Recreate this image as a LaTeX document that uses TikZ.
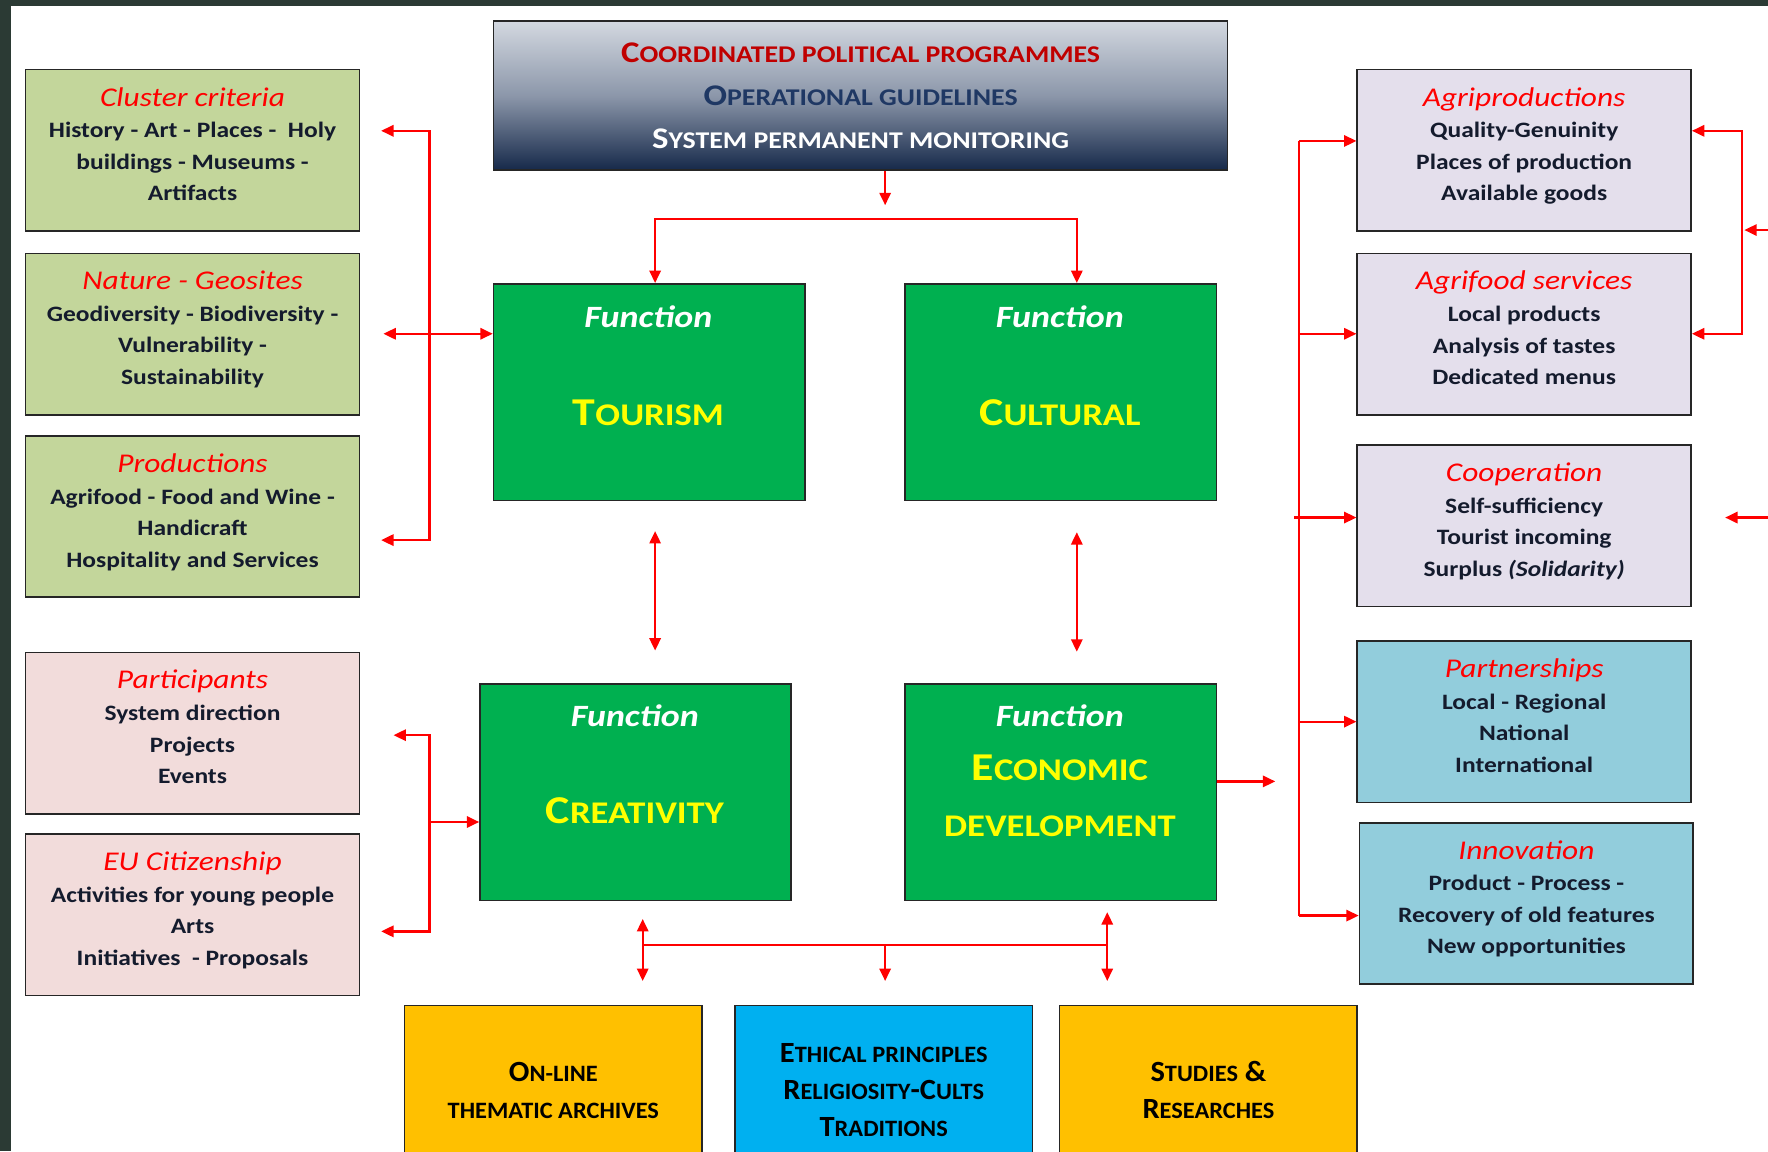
\documentclass[tikz,border=0pt]{standalone}
\usepackage{fontspec}
\setmainfont{Carlito}[FakeStretch=1.16]
\newfontfamily\condf[FakeStretch=1.04]{Carlito}
\usetikzlibrary{arrows.meta}
\definecolor{bgdark}{HTML}{2B3A34}
\definecolor{lgreen}{HTML}{C3D69B}
\definecolor{lpink}{HTML}{F2DCDB}
\definecolor{lviolet}{HTML}{E4DFEC}
\definecolor{lblue}{HTML}{92CDDC}
\definecolor{fgreen}{HTML}{00B050}
\definecolor{orng}{HTML}{FFC000}
\definecolor{cyanb}{HTML}{00B0F0}
\definecolor{tred}{HTML}{FF0000}
\definecolor{navy}{HTML}{1F3864}
\definecolor{dred}{HTML}{C00000}
\definecolor{txt}{HTML}{141B2D}
\definecolor{topL}{HTML}{D3D8E0}
\definecolor{topM}{HTML}{8C97AA}
\definecolor{topD}{HTML}{16294A}
\definecolor{yel}{HTML}{FFFF00}
\makeatletter
\newcommand\lsc[1]{{\fontsize{\the\dimexpr\f@size pt*4/5\relax}{\f@baselineskip}\selectfont #1}}
\makeatother
\newcommand\ttl[1]{{\fontsize{24}{28}\selectfont\mdseries\itshape\color{tred}#1}}
\newcommand\lift{\\[-17pt]\mbox{}}
\begin{document}
\begin{tikzpicture}[x=1pt,y=-1pt,
  box/.style={draw=black!85,line width=1.5pt,anchor=north west,align=center,inner sep=0pt},
  info/.style={box,minimum width=296pt,minimum height=143pt,text=txt,font=\bfseries\fontsize{19.5}{28}\selectfont},
  fun/.style={box,fill=fgreen,minimum width=276pt,minimum height=192pt},
  low/.style={box,minimum width=264pt,minimum height=150pt,font=\condf\bfseries\fontsize{26}{33}\selectfont,text=black},
  lbl/.style={inner sep=0pt,align=center},
  fnt/.style={lbl,text=white,font=\bfseries\itshape\fontsize{27.5}{30}\selectfont},
  fnn/.style={lbl,text=yel,font=\bfseries\fontsize{35}{50}\selectfont},
  ln/.style={draw=tred,line width=2pt},
  ar/.style={ln,-{Triangle[length=11pt,width=10pt]}},
  ar2/.style={ln,{Triangle[length=11pt,width=10pt]}-{Triangle[length=11pt,width=10pt]}},
]
\useasboundingbox (0,0) rectangle (1568,1021);
\clip (0,0) rectangle (1568,1021);
\fill[bgdark] (0,0) rectangle (1568,1021);
\fill[white] (10,5) rectangle (1568,1021);

% top box
\node[box,minimum width=651pt,minimum height=132pt,top color=topL,bottom color=topD,middle color=topM,
  font=\bfseries\fontsize{26.6}{38}\selectfont] (top) at (437,18)
  {\textcolor{dred}{C\lsc{OORDINATED POLITICAL PROGRAMMES}}\\
   \textcolor{navy}{O\lsc{PERATIONAL GUIDELINES}}\\
   \textcolor{white}{S\lsc{YSTEM PERMANENT MONITORING}}};

% left boxes
\node[info,fill=lgreen] (clu) at (22,61) {\ttl{Cluster criteria}\\History - Art - Places -\ \ Holy\\buildings - Museums -\\Artifacts\lift};
\node[info,fill=lgreen] (nat) at (22,224) {\ttl{Nature - Geosites}\\Geodiversity - Biodiversity -\\Vulnerability -\\Sustainability\lift};
\node[info,fill=lgreen] (pro) at (22,386) {\ttl{Productions}\\Agrifood - Food and Wine -\\Handicraft\\Hospitality and Services\lift};
\node[info,fill=lpink] (par) at (22,578) {\ttl{Participants}\\System direction\\Projects\\Events\lift};
\node[info,fill=lpink] (euc) at (22,739) {\ttl{EU Citizenship}\\Activities for young people\\Arts\\Initiatives\ \ - Proposals\lift};

% right boxes
\node[info,fill=lviolet] (agp) at (1203,61) {\ttl{Agriproductions}\\Quality-Genuinity\\Places of production\\Available goods\lift};
\node[info,fill=lviolet] (agf) at (1203,224) {\ttl{Agrifood services}\\Local products\\Analysis of tastes\\Dedicated menus\lift};
\node[info,fill=lviolet] (coo) at (1203,394) {\ttl{Cooperation}\\Self-sufficiency\\Tourist incoming\\Surplus {\itshape(Solidarity)}\lift};
\node[info,fill=lblue] (pas) at (1203,568) {\ttl{Partnerships}\\Local - Regional\\National\\International\lift};
\node[info,fill=lblue] (inn) at (1205,729) {\ttl{Innovation}\\Product - Process -\\Recovery of old features\\New opportunities\lift};

% function boxes
\node[fun] (tou) at (437,251) {};
\node[fun] (cul) at (802,251) {};
\node[fun] (cre) at (425,606) {};
\node[fun] (eco) at (802,606) {};
\node[fnt] (toua) at (575,281) {Function};
\node[fnn] (toub) at (575,366) {T\lsc{OURISM}};
\node[fnt] (cula) at (940,281) {Function};
\node[fnn] (culb) at (940,366) {C\lsc{ULTURAL}};
\node[fnt] (crea) at (563,635) {Function};
\node[fnn] (creb) at (563,719) {C\lsc{REATIVITY}};
\node[fnt] (ecoa) at (940,635) {Function};
\node[fnn] (ecob) at (940,706) {E\lsc{CONOMIC}\\\lsc{DEVELOPMENT}};

% bottom boxes
\node[low,fill=orng] (onl) at (358,891) {O\lsc{N-LINE}\\\lsc{THEMATIC ARCHIVES}};
\node[low,fill=cyanb] (eth) at (651,891) {E\lsc{THICAL PRINCIPLES}\\R\lsc{ELIGIOSITY}-C\lsc{ULTS}\\T\lsc{RADITIONS}};
\node[low,fill=orng] (stu) at (939,891) {S\lsc{TUDIES} \&\\R\lsc{ESEARCHES}};

% connector coordinates
\coordinate (t1) at (785,182);
\coordinate (t2) at (581,194);
\coordinate (t3) at (955,194);
\coordinate (la) at (338,116);
\coordinate (l1) at (381,116);
\coordinate (l2) at (381,479);
\coordinate (lb) at (338,479);
\coordinate (lc) at (340,296);
\coordinate (ma) at (349,652);
\coordinate (m1) at (381,652);
\coordinate (m2) at (381,826);
\coordinate (mb) at (338,826);
\coordinate (mc) at (381,729);
\coordinate (v1) at (581,471);
\coordinate (v2) at (581,577);
\coordinate (w1) at (955,472);
\coordinate (w2) at (955,578);
\coordinate (e1) at (1131,693);
\coordinate (r1) at (1152,125);
\coordinate (r2) at (1152,296);
\coordinate (r3) at (1148,459);
\coordinate (r4) at (1152,640);
\coordinate (r5) at (1152,812);
\coordinate (f1) at (1545,116);
\coordinate (f2) at (1545,296);
\coordinate (g0) at (1568,204);
\coordinate (g1) at (1547,204);
\coordinate (h0) at (1568,459);
\coordinate (h1) at (1530,459);
\coordinate (b1) at (570,838);
\coordinate (b2) at (785,838);
\coordinate (b3) at (982,838);
\coordinate (bu1) at (570,815);
\coordinate (bu3) at (982,809);
\coordinate (bd) at (0,870);

% connectors
\draw[ar] (top.south -| t1) -- (t1);
\draw[ar2] (tou.north -| t2) -- (t2) -- (t3) -- (cul.north -| t3);
\draw[ar2] (la) -- (l1) -- (l2) -- (lb);
\draw[ar2] (lc) -- (tou.west |- lc);
\draw[ar2] (ma) -- (m1) -- (m2) -- (mb);
\draw[ar] (mc) -- (cre.west |- mc);
\draw[ar2] (v1) -- (v2);
\draw[ar2] (w1) -- (w2);
\draw[ar] (eco.east |- e1) -- (e1);
\draw[ln] (r1) -- (r5);
\draw[ar] (r1) -- (agp.west |- r1);
\draw[ar] (r2) -- (agf.west |- r2);
\draw[ar] (r3) -- (coo.west |- r3);
\draw[ar] (r4) -- (pas.west |- r4);
\draw[ar] (r5) -- (inn.west |- r5);
\draw[ar2] (agp.east |- f1) -- (f1) -- (f2) -- (agf.east |- f2);
\draw[ar] (g0) -- (g1);
\draw[ar] (h0) -- (h1);
\draw[ln] (b1) -- (b3);
\draw[ar2] (bu1) -- (b1 |- bd);
\draw[ar] (b2) -- (b2 |- bd);
\draw[ar2] (bu3) -- (b3 |- bd);
\end{tikzpicture}
\end{document}
